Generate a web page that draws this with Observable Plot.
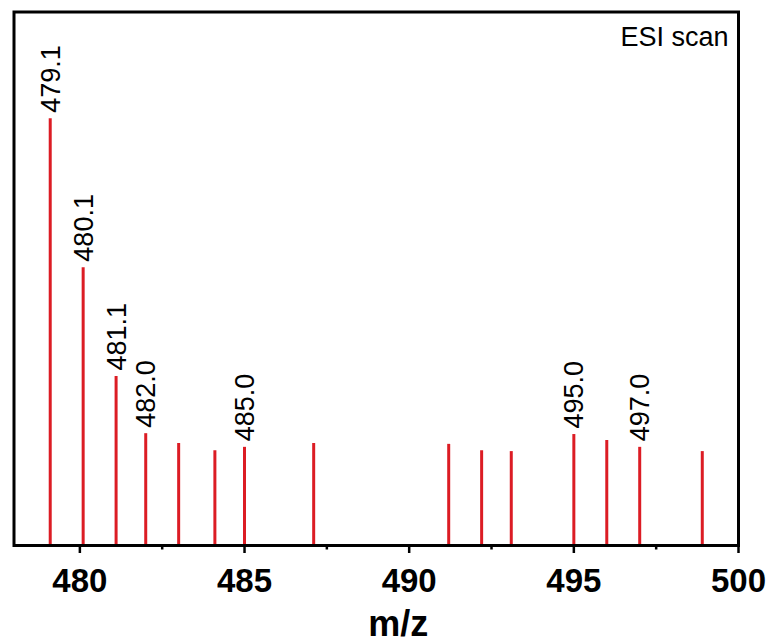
<!DOCTYPE html>
<html>
<head>
<meta charset="utf-8">
<script src="https://cdn.jsdelivr.net/npm/d3@7"></script>
<script src="https://cdn.jsdelivr.net/npm/@observablehq/plot@0.6"></script>
<style>
  html, body { margin: 0; padding: 0; background: #fff; }
</style>
</head>
<body>
<div id="chart"></div>
<script>
// m/z peaks and relative intensities
const mzValues = [479.1, 480.1, 481.1, 482.0, 483.0, 484.1, 485.0, 487.1, 491.2, 492.2, 493.1, 495.0, 496.0, 497.0, 498.9];
const intensities = [100, 65.1, 39.6, 26.2, 23.9, 22.2, 23.0, 23.9, 23.7, 22.2, 22.0, 26.0, 24.6, 23.0, 22.0];
const labelledPeaks = ["479.1", "480.1", "481.1", "482.0", null, null, "485.0", null, null, null, null, "495.0", null, "497.0", null];
const majorTicks = [480, 485, 490, 495, 500];
const minorTicks = [482.5, 487.5, 492.5, 497.5];
const xLabel = ["m/z"];
const annotation = ["ESI scan"];

const peaks = mzValues.map((mz, i) => ({mz, intensity: intensities[i], label: labelledPeaks[i]}));
const labelled = peaks.filter(d => d.label);

const red = "#dc1c24";

const chart = Plot.plot({
  width: 774,
  height: 644,
  marginLeft: 13.5,
  marginRight: 36,
  marginTop: 11.5,
  marginBottom: 99,
  style: {fontFamily: "'Liberation Sans', Arial, sans-serif", color: "#000", background: "#fff"},
  x: {domain: [478, 500]},
  y: {domain: [0, 125], axis: null},
  marks: [
    Plot.ruleX(peaks, {x: "mz", y1: 0, y2: "intensity", stroke: red, strokeWidth: 3}),
    Plot.text(labelled, {x: "mz", y: "intensity", text: "label", rotate: -90, textAnchor: "start", lineAnchor: "middle", dy: -6, dx: 1, fontSize: 27, fill: "#000"}),
    Plot.axisX({ticks: minorTicks, tickSize: 4.5, strokeWidth: 2.5, text: null, label: null}),
    Plot.axisX({ticks: majorTicks, tickSize: 8, tickPadding: 15, strokeWidth: 2.5, fontSize: 33, fontWeight: "bold", label: null, tickFormat: d => String(d)}),
    Plot.text(xLabel, {text: d => d, frameAnchor: "bottom", lineAnchor: "middle", dy: 79, dx: 22, fontSize: 36, fontWeight: "bold", fill: "#000"}),
    Plot.text(annotation, {text: d => d, frameAnchor: "top-right", textAnchor: "end", lineAnchor: "top", dx: -10, dy: 15, fontSize: 27, fill: "#000"}),
    Plot.frame({stroke: "#000", strokeWidth: 3})
  ]
});
document.getElementById("chart").appendChild(chart);
</script>
</body>
</html>
